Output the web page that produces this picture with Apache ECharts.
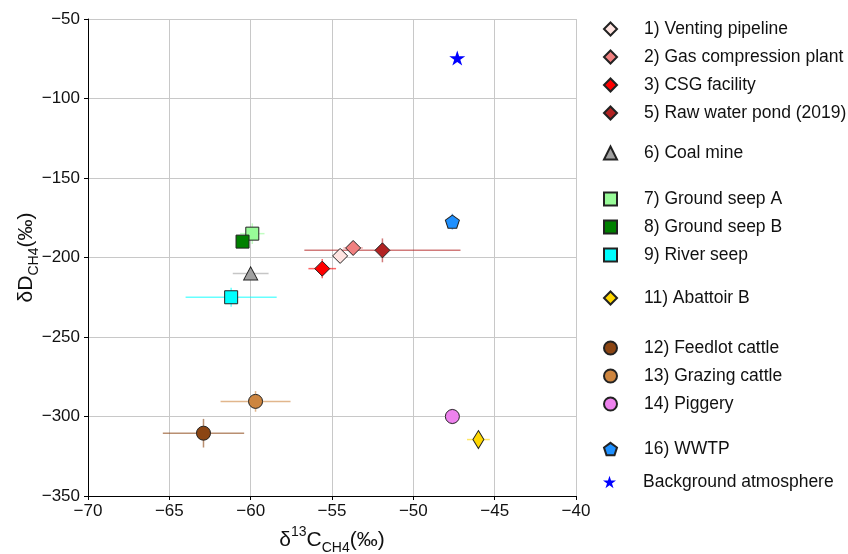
<!DOCTYPE html>
<html>
<head>
<meta charset="utf-8">
<script src="https://cdn.jsdelivr.net/npm/echarts@6/dist/echarts.min.js"></script>
<style>
  html, body { margin: 0; padding: 0; background: #fff; }
  #main { width: 848px; height: 554px; }
</style>
</head>
<body>
<div id="main"></div>
<script>
// source names as in the legend
const sources = [
  '1) Venting pipeline', '2) Gas compression plant', '3) CSG facility', '5) Raw water pond (2019)',
  '6) Coal mine',
  '7) Ground seep A', '8) Ground seep B', '9) River seep',
  '11) Abattoir B',
  '12) Feedlot cattle', '13) Grazing cattle', '14) Piggery',
  '16) WWTP',
  'Background atmosphere'
]
// δ13C-CH4 (‰)
const d13C = [-54.5, -53.7, -55.6, -51.9, -60.0, -59.9, -60.5, -61.2, -46.0, -62.9, -59.7, -47.6, -47.6, -47.3]
// δD-CH4 (‰)
const dD = [-199, -194, -207, -195.5, -210, -185, -190, -225, -314.5, -310.5, -290.5, -300, -177.5, -74.5]
// error (1 sd)
const d13CErr = [0.2, 0.6, 0.85, 4.8, 1.1, 0.75, 0.3, 2.8, 0.7, 2.5, 2.15, 0.3, 0.2, 0.1]
const dDErr = [1, 1, 6, 7.5, 1, 6.5, 3, 6, 2, 9, 6.5, 5, 5, 1]

const xTicks = [-70, -65, -60, -55, -50, -45, -40]
const yTicks = [-350, -300, -250, -200, -150, -100, -50]

const colors = ['#ffe4e1', '#f08080', '#ff0000', '#b22222', '#a0a0a0', '#98fb98', '#008000', '#00ffff',
  '#ffd700', '#8b4513', '#cd853f', '#ee82ee', '#1e90ff', '#0000ff']
const pentagon = 'path://M0,-10 L9.51,-3.09 L5.88,8.09 L-5.88,8.09 L-9.51,-3.09 Z'
const star = 'path://M0,-10 L2.245,-3.09 L9.511,-3.09 L3.633,1.18 L5.878,8.09 L0,3.82 L-5.878,8.09 L-3.633,1.18 L-9.511,-3.09 L-2.245,-3.09 Z'
const symbols = ['diamond', 'diamond', 'diamond', 'diamond', 'triangle', 'rect', 'rect', 'rect',
  'diamond', 'circle', 'circle', 'circle', pentagon, star]
const sizes = [[15, 15], [15, 15], [15, 15], [15, 15], [14, 13], [13, 13], [13, 13], [13, 13],
  [11, 18], [14, 14], [14, 14], [14, 14], [14, 13], [16, 15]]

const minus = v => String(v).replace('-', '\u2212')

const series = []
sources.forEach((name, i) => {
  series.push({
    name: 'err' + i,
    type: 'custom',
    z: 1,
    silent: true,
    data: [[d13C[i], dD[i], d13CErr[i], dDErr[i]]],
    renderItem: (params, api) => {
      const x = api.value(0)
      const y = api.value(1)
      const xe = api.value(2)
      const ye = api.value(3)
      const l = api.coord([x - xe, y])
      const r = api.coord([x + xe, y])
      const t = api.coord([x, y + ye])
      const b = api.coord([x, y - ye])
      const style = { stroke: colors[i], lineWidth: 1.5, opacity: 0.6 }
      return {
        type: 'group',
        children: [
          { type: 'line', shape: { x1: l[0], y1: l[1], x2: r[0], y2: r[1] }, style: style },
          { type: 'line', shape: { x1: t[0], y1: t[1], x2: b[0], y2: b[1] }, style: style }
        ]
      }
    }
  })
  series.push({
    name: name,
    type: 'scatter',
    z: 2,
    symbol: symbols[i],
    symbolSize: sizes[i],
    itemStyle: {
      color: colors[i],
      borderColor: i === 13 ? colors[i] : '#222',
      borderWidth: i === 13 ? 0 : 1,
      opacity: 1
    },
    data: [[d13C[i], dD[i]]]
  })
})

// legend groups (indices into sources) with their vertical position
const legendGroups = [
  { items: [0, 1, 2, 3], top: 20 },
  { items: [4], top: 144 },
  { items: [5, 6, 7], top: 190 },
  { items: [8], top: 289 },
  { items: [9, 10, 11], top: 339 },
  { items: [12], top: 440 },
  { items: [13], top: 473 }
]

const legend = legendGroups.map(g => ({
  orient: 'vertical',
  left: 603,
  top: g.top,
  padding: 0,
  itemWidth: 13,
  itemHeight: 13,
  itemGap: 10,
  data: g.items.map(i => sources[i]),
  textStyle: {
    fontFamily: 'Liberation Sans',
    fontSize: 17.5,
    lineHeight: 16,
    color: '#111',
    padding: [0, 0, 0, 22]
  }
}))

const chart = echarts.init(document.getElementById('main'))
const option = {
  animation: false,
  backgroundColor: '#fff',
  legend: legend,
  grid: {
    left: 88,
    right: 272,
    top: 19,
    bottom: 58,
    outerBoundsMode: 'none',
    containLabel: false
  },
  xAxis: {
    type: 'value',
    min: xTicks[0],
    max: xTicks[xTicks.length - 1],
    interval: 5,
    name: '{a|δ}{sup|13}{a|C}{sub|CH4}{a|(‰)}',
    nameLocation: 'middle',
    nameGap: 29,
    nameMoveOverlap: false,
    nameTextStyle: {
      rich: {
        a: { fontFamily: 'Liberation Sans', fontSize: 21, color: '#111', lineHeight: 30, verticalAlign: 'middle' },
        sup: { fontFamily: 'Liberation Sans', fontSize: 14, color: '#111', lineHeight: 30, verticalAlign: 'top', padding: [0, 0, 6, 0] },
        sub: { fontFamily: 'Liberation Sans', fontSize: 14, color: '#111', lineHeight: 30, verticalAlign: 'bottom', padding: [6, 0, 0, 0] }
      }
    },
    axisLine: { show: true, lineStyle: { color: '#000', width: 1 } },
    axisTick: { show: true, length: 4, lineStyle: { color: '#000' } },
    axisLabel: {
      fontFamily: 'Liberation Sans',
      fontSize: 17,
      color: '#111',
      margin: 7,
      formatter: minus
    },
    splitLine: { show: true, lineStyle: { color: '#c8c8c8', width: 1 } }
  },
  yAxis: {
    type: 'value',
    min: yTicks[0],
    max: yTicks[yTicks.length - 1],
    interval: 50,
    name: '{a|δD}{sub|CH4}{a|(‰)}',
    nameLocation: 'middle',
    nameRotate: 90,
    nameGap: 47,
    nameMoveOverlap: false,
    nameTextStyle: {
      rich: {
        a: { fontFamily: 'Liberation Sans', fontSize: 21, color: '#111', lineHeight: 30, verticalAlign: 'middle' },
        sub: { fontFamily: 'Liberation Sans', fontSize: 14, color: '#111', lineHeight: 30, verticalAlign: 'bottom', padding: [6, 0, 0, 0] }
      }
    },
    axisLine: { show: true, lineStyle: { color: '#000', width: 1 } },
    axisTick: { show: true, length: 4, lineStyle: { color: '#000' } },
    axisLabel: {
      fontFamily: 'Liberation Sans',
      fontSize: 17,
      color: '#111',
      margin: 8,
      formatter: minus
    },
    splitLine: { show: true, lineStyle: { color: '#c8c8c8', width: 1 } }
  },
  series: series
}
chart.setOption(option)
</script>
</body>
</html>
